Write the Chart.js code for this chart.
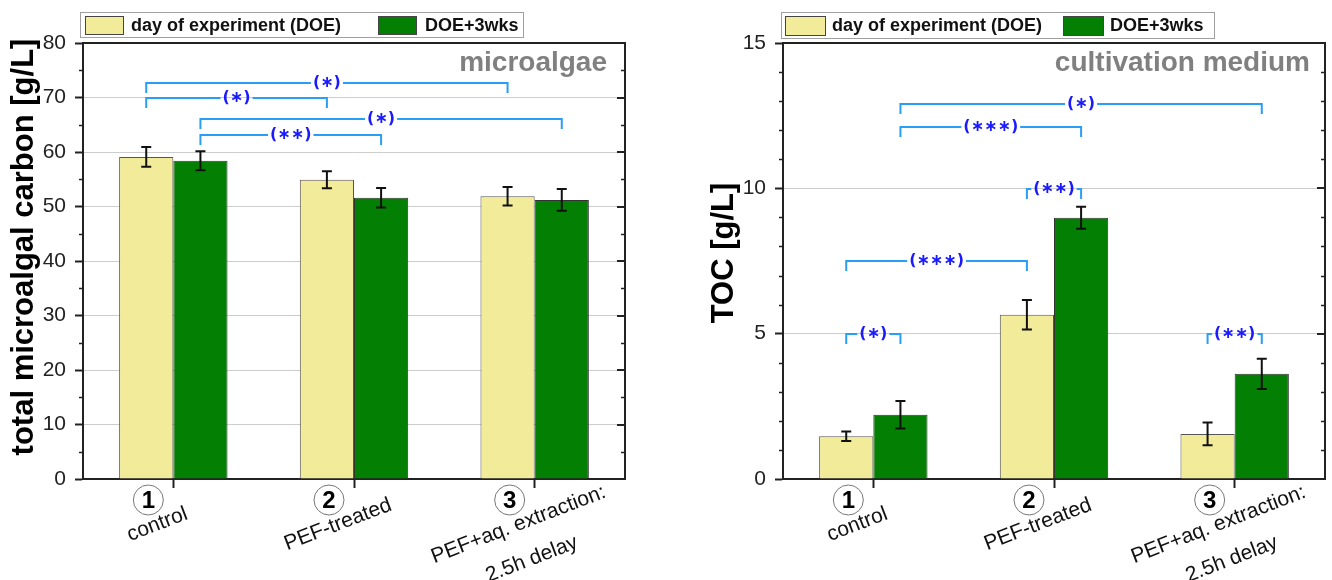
<!DOCTYPE html>
<html>
<head>
<meta charset="utf-8">
<script src="https://cdn.jsdelivr.net/npm/chart.js"></script>
<style>
  html, body { margin: 0; padding: 0; background: #fff; }
  body { width: 1332px; height: 580px; position: relative; overflow: hidden; }
  canvas { position: absolute; top: 0; }
  #algaeChart { left: 0; }
  #tocChart { left: 700px; }
</style>
</head>
<body>
<canvas id="algaeChart" width="660" height="580"></canvas>
<canvas id="tocChart" width="632" height="580"></canvas>
<script>
// shared categories and series
const categories = ['control', 'PEF-treated', ['PEF+aq. extraction:', '2.5h delay']];
const categoryNumbers = ['1', '2', '3'];
const seriesNames = ['day of experiment (DOE)', 'DOE+3wks'];

// left panel: total microalgal carbon [g/L]
const algaeDOE = [59.1, 54.9, 51.9];
const algaeDOEErr = [1.8, 1.55, 1.7];
const algae3wks = [58.4, 51.6, 51.2];
const algae3wksErr = [1.75, 1.8, 2.0];
const algaeTicks = [0, 10, 20, 30, 40, 50, 60, 70, 80];
const algaeMinorTicks = [5, 15, 25, 35, 45, 55, 65, 75];
// [from series, from category, to series, to category, level, label]
const algaeBrackets = [
    [0, 0, 0, 2, 72.6, '(∗)'],
    [0, 0, 0, 1, 70.0, '(∗)'],
    [1, 0, 1, 2, 66.0, '(∗)'],
    [1, 0, 1, 1, 63.1, '(∗∗)']
];

// right panel: TOC [g/L]
const tocDOE = [1.47, 5.65, 1.55];
const tocDOEErr = [0.16, 0.51, 0.39];
const toc3wks = [2.21, 8.99, 3.62];
const toc3wksErr = [0.47, 0.38, 0.52];
const tocTicks = [0, 5, 10, 15];
const tocMinorTicks = [1, 2, 3, 4, 6, 7, 8, 9, 11, 12, 13, 14];
const tocBrackets = [
    [1, 0, 1, 2, 12.91, '(∗)'],
    [1, 0, 1, 1, 12.11, '(∗∗∗)'],
    [0, 1, 1, 1, 9.97, '(∗∗)'],
    [0, 0, 0, 1, 7.5, '(∗∗∗)'],
    [0, 0, 1, 0, 5.0, '(∗)'],
    [0, 2, 1, 2, 5.0, '(∗∗)']
];

const YELLOW = '#f1eb9a';
const GREEN = '#037f03';
const FONT = '"Liberation Sans", Arial, sans-serif';

const decor = {
    id: 'decor',
    afterDatasetsDraw(chart, args, o) {
        const { ctx, chartArea: a, scales: { x, y } } = chart;
        ctx.save();

        // frame top + right
        ctx.strokeStyle = '#222';
        ctx.lineWidth = 2;
        ctx.beginPath();
        ctx.moveTo(a.left, a.top); ctx.lineTo(a.right, a.top); ctx.lineTo(a.right, a.bottom);
        ctx.stroke();

        // minor ticks left (outside), mirrored ticks right (inside)
        ctx.lineWidth = 1.5;
        ctx.beginPath();
        o.minor.forEach(v => {
            const py = Math.round(y.getPixelForValue(v)) + 0.5;
            ctx.moveTo(a.left - 4, py); ctx.lineTo(a.left, py);
            ctx.moveTo(a.right - 4, py); ctx.lineTo(a.right, py);
        });
        ctx.stroke();
        ctx.lineWidth = 2;
        ctx.beginPath();
        o.major.forEach(v => {
            const py = Math.round(y.getPixelForValue(v));
            ctx.moveTo(a.right - 8, py); ctx.lineTo(a.right, py);
        });
        ctx.stroke();

        // y axis title
        ctx.save();
        ctx.translate(33, o.titleY);
        ctx.rotate(-Math.PI / 2);
        ctx.fillStyle = '#000';
        ctx.font = 'bold 31px ' + FONT;
        ctx.textAlign = 'center';
        ctx.textBaseline = 'alphabetic';
        ctx.fillText(o.yTitle, 0, 0);
        ctx.restore();

        // error bars
        ctx.strokeStyle = '#111';
        ctx.lineWidth = 2;
        chart.data.datasets.forEach((ds, di) => {
            chart.getDatasetMeta(di).data.forEach((bar, i) => {
                const e = ds.err[i];
                const y1 = y.getPixelForValue(ds.data[i] + e);
                const y2 = y.getPixelForValue(ds.data[i] - e);
                ctx.beginPath();
                ctx.moveTo(bar.x, y1); ctx.lineTo(bar.x, y2);
                ctx.moveTo(bar.x - 5, y1); ctx.lineTo(bar.x + 5, y1);
                ctx.moveTo(bar.x - 5, y2); ctx.lineTo(bar.x + 5, y2);
                ctx.stroke();
            });
        });

        // significance brackets
        ctx.font = 'bold 16px "DejaVu Sans", sans-serif';
        ctx.textAlign = 'center';
        ctx.textBaseline = 'middle';
        o.brackets.forEach(([d1, i1, d2, i2, lvl, label]) => {
            const xa = chart.getDatasetMeta(d1).data[i1].x;
            const xb = chart.getDatasetMeta(d2).data[i2].x;
            const py = Math.round(y.getPixelForValue(lvl));
            const w = ctx.measureText(label).width;
            const xm = (xa + xb) / 2;
            ctx.strokeStyle = '#2a9df4';
            ctx.lineWidth = 2;
            ctx.beginPath();
            ctx.moveTo(xa, py + 10); ctx.lineTo(xa, py); ctx.lineTo(xm - w / 2 - 2, py);
            ctx.moveTo(xm + w / 2 + 2, py); ctx.lineTo(xb, py); ctx.lineTo(xb, py + 10);
            ctx.stroke();
            ctx.fillStyle = '#1a1aff';
            ctx.fillText(label, xm, py);
        });

        // panel caption
        ctx.fillStyle = '#808080';
        ctx.font = 'bold 28px ' + FONT;
        ctx.textAlign = 'right';
        ctx.textBaseline = 'alphabetic';
        ctx.fillText(o.caption, a.right - o.captionInset, 71);

        // legend
        const L = o.legend;
        ctx.strokeStyle = '#a0a0a0';
        ctx.lineWidth = 1;
        ctx.strokeRect(L.x + 0.5, L.y + 0.5, L.w, L.h);
        ctx.font = 'bold 18px ' + FONT;
        ctx.textAlign = 'left';
        ctx.textBaseline = 'middle';
        chart.data.datasets.forEach((ds, di) => {
            const it = L.items[di];
            ctx.fillStyle = ds.backgroundColor;
            ctx.fillRect(it[0], L.y + 4, L.sw, L.sh);
            ctx.strokeStyle = '#444';
            ctx.strokeRect(it[0] + 0.5, L.y + 4.5, L.sw - 1, L.sh - 1);
            ctx.fillStyle = '#111';
            ctx.fillText(ds.label, it[1], L.y + 14);
        });

        // category labels: circled number + rotated text
        chart.data.labels.forEach((lab, i) => {
            const tx = x.getPixelForValue(i);
            ctx.strokeStyle = '#777';
            ctx.lineWidth = 1;
            ctx.beginPath();
            ctx.arc(tx - 25, a.bottom + 21, 15, 0, Math.PI * 2);
            ctx.stroke();
            ctx.fillStyle = '#000';
            ctx.font = 'bold 24px ' + FONT;
            ctx.textAlign = 'center';
            ctx.textBaseline = 'middle';
            ctx.fillText(categoryNumbers[i], tx - 25, a.bottom + 22);

            const lines = Array.isArray(lab) ? lab : [lab];
            ctx.save();
            ctx.translate(tx - 14, a.bottom + 51);
            ctx.rotate(-21 * Math.PI / 180);
            ctx.font = '21px ' + FONT;
            ctx.fillStyle = '#111';
            ctx.textBaseline = 'alphabetic';
            lines.forEach((t, k) => ctx.fillText(t, 0, k * 37));
            ctx.restore();
        });

        ctx.restore();
    }
};

function makeChart(id, p) {
    return new Chart(document.getElementById(id), {
        type: 'bar',
        data: {
            labels: categories,
            datasets: [
                { label: seriesNames[0], data: p.doe, err: p.doeErr, backgroundColor: YELLOW, borderColor: '#555', borderWidth: 1 },
                { label: seriesNames[1], data: p.wks, err: p.wksErr, backgroundColor: GREEN, borderColor: '#333', borderWidth: 1 }
            ]
        },
        options: {
            responsive: false,
            animation: false,
            layout: { padding: { top: 43, left: 0, right: p.padRight, bottom: 0 } },
            datasets: { bar: { barPercentage: 1, categoryPercentage: 0.6 } },
            plugins: {
                legend: { display: false },
                tooltip: { enabled: false },
                decor: {
                    major: p.ticks, minor: p.minor, brackets: p.brackets, yTitle: p.yTitle, titleY: p.titleY,
                    caption: p.caption, captionInset: p.captionInset, legend: p.legend
                }
            },
            scales: {
                x: {
                    grid: { offset: false, drawOnChartArea: false, tickLength: 9, tickColor: '#222', tickWidth: 2 },
                    border: { color: '#222', width: 2 },
                    ticks: { display: false },
                    afterFit: s => { s.height = 101; }
                },
                y: {
                    min: 0, max: p.ticks[p.ticks.length - 1],
                    afterBuildTicks: s => { s.ticks = p.ticks.map(v => ({ value: v })); },
                    grid: { color: '#cdcdcd', lineWidth: 1, tickColor: '#222', tickLength: 8, tickWidth: 2 },
                    border: { color: '#222', width: 2 },
                    ticks: { font: { family: FONT, size: 21 }, color: '#222', padding: 9 },
                    afterFit: s => { s.width = 83; }
                }
            }
        },
        plugins: [decor]
    });
}

makeChart('algaeChart', {
    doe: algaeDOE, doeErr: algaeDOEErr, wks: algae3wks, wksErr: algae3wksErr,
    ticks: algaeTicks, minor: algaeMinorTicks, brackets: algaeBrackets,
    yTitle: 'total microalgal carbon [g/L]', titleY: 247,
    caption: 'microalgae', captionInset: 18, padRight: 35,
    legend: { x: 80, y: 12, w: 443, h: 25, sw: 39, sh: 19, items: [[85, 131], [378, 425]] }
});

makeChart('tocChart', {
    doe: tocDOE, doeErr: tocDOEErr, wks: toc3wks, wksErr: toc3wksErr,
    ticks: tocTicks, minor: tocMinorTicks, brackets: tocBrackets,
    yTitle: 'TOC [g/L]', titleY: 253,
    caption: 'cultivation medium', captionInset: 15, padRight: 7,
    legend: { x: 81, y: 12, w: 433, h: 26, sw: 41, sh: 20, items: [[85, 132], [363, 410]] }
});
</script>
</body>
</html>
